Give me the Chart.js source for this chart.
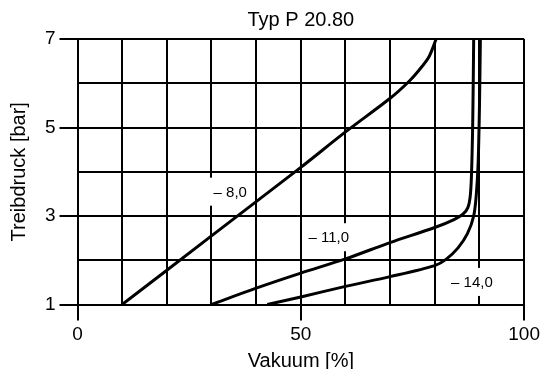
<!DOCTYPE html>
<html lang="de">
<head>
    <title>Typ P 20.80</title>
    <script src="https://cdn.jsdelivr.net/npm/chart.js@4.4.1/dist/chart.umd.min.js"></script>
    <style>
        html, body { margin: 0; padding: 0; background: #fff; }
        #chart { display: block; }
    </style>
</head>
<body>
    <canvas id="chart" width="543" height="369"></canvas>

    <script>

        // tick labels shown on the axes
        const xTickLabels = [0, 50, 100];
        const yTickLabels = [1, 3, 5, 7];

        // curve names (Saugdruck)
        const curveNames = ['– 8,0', '– 11,0', '– 14,0'];

        // Vakuum [%] / Treibdruck [bar]
        const vak8 = [10, 30, 50, 60, 70, 74.2, 76.5, 78.7, 80.3];
        const bar8 = [1, 2.55, 4.1, 4.9, 5.66, 6.04, 6.3, 6.6, 7];

        const vak11 = [30, 40, 50, 60, 70, 80, 84.3, 86.3, 87.4, 87.9, 88.2, 88.5, 88.7];
        const bar11 = [1, 1.37, 1.71, 2.03, 2.4, 2.74, 2.92, 3.04, 3.19, 3.42, 3.9, 5.2, 7];

        const vak14 = [42.5, 50, 60, 70, 80, 82.5, 85.2, 87.3, 88.7, 89.3, 89.7, 90, 90.2];
        const bar14 = [1, 1.17, 1.41, 1.63, 1.88, 2.02, 2.28, 2.6, 3.0, 3.5, 4.2, 5.5, 7];

        function toPoints(xs, ys) {
            return xs.map((x, i) => ({ x: x, y: ys[i] }));
        }

        const FONT = "'Liberation Sans', Arial, sans-serif";

        // where the curve names sit (Vakuum, Treibdruck)
        const nameAnchors = [[34.2, 3.55], [56.25, 2.52], [88.3, 1.51]];

        const curveNamePlugin = {
            id: 'curveNames',
            beforeDatasetsDraw(chart) {
                const ctx = chart.ctx;
                const xs = chart.scales.x, ys = chart.scales.y;
                ctx.save();
                ctx.font = '15px ' + FONT;
                ctx.textAlign = 'center';
                ctx.textBaseline = 'middle';
                curveNames.forEach((name, i) => {
                    const px = xs.getPixelForValue(nameAnchors[i][0]);
                    const py = ys.getPixelForValue(nameAnchors[i][1]);
                    const w = ctx.measureText(name).width + 8;
                    ctx.fillStyle = '#fff';
                    ctx.fillRect(px - w / 2, py - 14, w, 28);
                    ctx.fillStyle = '#000';
                    ctx.fillText(name, px, py + 1);
                });
                ctx.restore();
            }
        };

        const lineStyle = { borderColor: '#000', borderWidth: 3, pointRadius: 0, showLine: true, fill: false, tension: 0.3 };

        new Chart(document.getElementById('chart').getContext('2d'), {
            type: 'scatter',
            data: {
                datasets: [
                    Object.assign({ label: curveNames[0], data: toPoints(vak8, bar8) }, lineStyle),
                    Object.assign({ label: curveNames[1], data: toPoints(vak11, bar11) }, lineStyle),
                    Object.assign({ label: curveNames[2], data: toPoints(vak14, bar14) }, lineStyle),
                ],
            },
            options: {
                responsive: false,
                animation: false,
                layout: { padding: { left: 0, right: 17.5, top: 0, bottom: 0 } },
                plugins: {
                    legend: { display: false },
                    tooltip: { enabled: false },
                    title: {
                        display: true,
                        fullSize: false,
                        text: 'Typ P 20.80',
                        color: '#000',
                        font: { family: FONT, size: 20, weight: 'normal', lineHeight: 1.2 },
                        padding: { top: 8, bottom: 7 },
                    },
                },
                scales: {
                    x: {
                        type: 'linear',
                        min: 0,
                        max: 100,
                        afterFit(scale) { scale.height = 64.5; },
                        ticks: {
                            stepSize: 10,
                            autoSkip: false,
                            maxRotation: 0,
                            padding: 3,
                            color: '#000',
                            font: { family: FONT, size: 19 },
                            callback: v => xTickLabels.includes(v) ? String(v) : '',
                        },
                        grid: {
                            color: '#000',
                            lineWidth: 2,
                            tickLength: 16,
                            tickWidth: 2,
                            tickColor: c => (c.tick && xTickLabels.includes(c.tick.value)) ? '#000' : 'rgba(0,0,0,0)',
                        },
                        border: { display: true, color: '#000', width: 2 },
                        title: {
                            display: true,
                            text: 'Vakuum [%]',
                            color: '#000',
                            font: { family: FONT, size: 20, lineHeight: 0.8 },
                            padding: { top: 0, bottom: 0 },
                        },
                    },
                    y: {
                        type: 'linear',
                        min: 1,
                        max: 7,
                        afterFit(scale) { scale.width = 77.5; },
                        ticks: {
                            stepSize: 1,
                            autoSkip: false,
                            padding: 4,
                            color: '#000',
                            font: { family: FONT, size: 19 },
                            callback: v => yTickLabels.includes(v) ? String(v) : '',
                        },
                        grid: {
                            color: '#000',
                            lineWidth: 2,
                            tickLength: 18,
                            tickWidth: 2,
                            tickColor: c => (c.tick && yTickLabels.includes(c.tick.value)) ? '#000' : 'rgba(0,0,0,0)',
                        },
                        border: { display: true, color: '#000', width: 2 },
                        title: {
                            display: true,
                            text: 'Treibdruck [bar]',
                            color: '#000',
                            font: { family: FONT, size: 20, lineHeight: 1.2 },
                            padding: { top: 7, bottom: 0 },
                        },
                    },
                },
            },
            plugins: [curveNamePlugin],
        });

    </script>
</body>
</html>
